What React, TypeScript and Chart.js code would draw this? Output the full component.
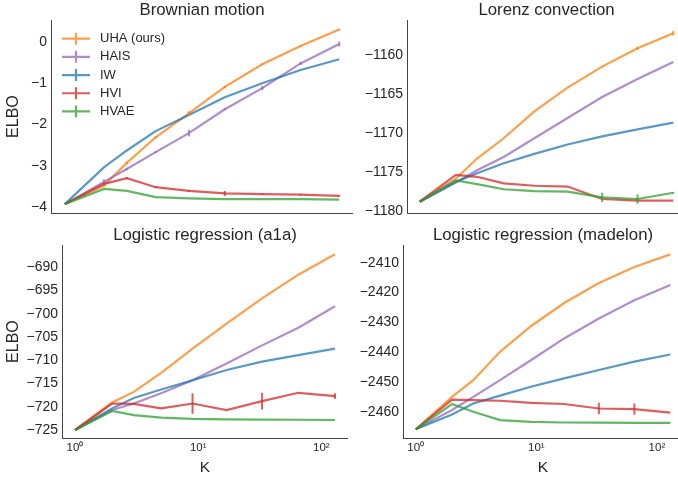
import React, { useEffect, useRef } from 'react';
import { Chart, registerables } from 'chart.js';

Chart.register(...registerables);

// ---------------- data ----------------
const K = [1, 2, 3, 5, 9, 17, 33, 65, 129];
const SERIES = ['UHA (ours)', 'HAIS', 'IW', 'HVI', 'HVAE'];
const COLORS = [
  'rgba(255,127,14,0.75)',
  'rgba(148,103,189,0.75)',
  'rgba(31,119,180,0.75)',
  'rgba(214,39,40,0.75)',
  'rgba(44,160,44,0.75)',
];
const X_TICKS = [1, 10, 100];
const X_TICK_LABELS = ['10\u2070', '10\u00b9', '10\u00b2'];

// Brownian motion
const BROWN_UHA = [-3.93, -3.48, -2.93, -2.31, -1.73, -1.09, -0.54, -0.1, 0.3];
const BROWN_HAIS = [-3.93, -3.39, -3.08, -2.67, -2.21, -1.63, -1.12, -0.52, -0.05];
const BROWN_IW = [-3.93, -3.04, -2.63, -2.16, -1.77, -1.34, -1.0, -0.68, -0.42];
const BROWN_HVI = [-3.93, -3.44, -3.3, -3.52, -3.61, -3.67, -3.69, -3.7, -3.73];
const BROWN_HVAE = [-3.93, -3.56, -3.61, -3.76, -3.79, -3.81, -3.81, -3.81, -3.82];
const BROWN_UHA_ERR = [0, 0.03, 0.03, 0.03, 0.05, 0.03, 0.02, 0.02, 0.02];
const BROWN_HAIS_ERR = [0, 0.06, 0.03, 0.02, 0.08, 0.02, 0.05, 0.04, 0.06];
const BROWN_HVI_ERR = [0, 0.02, 0.02, 0.02, 0.02, 0.06, 0.02, 0.02, 0.02];
const BROWN_TICKS = [-4, -3, -2, -1, 0];

// Lorenz convection
const LORENZ_UHA = [-1178.85, -1175.9, -1173.3, -1170.7, -1167.25, -1164.2, -1161.5, -1159.15, -1157.2];
const LORENZ_HAIS = [-1178.85, -1176.4, -1174.8, -1173.1, -1170.7, -1168.1, -1165.4, -1163.1, -1160.9];
const LORENZ_IW = [-1178.85, -1176.3, -1175.2, -1173.9, -1172.7, -1171.5, -1170.45, -1169.55, -1168.7];
const LORENZ_HVI = [-1178.85, -1175.4, -1175.65, -1176.5, -1176.8, -1176.9, -1178.5, -1178.7, -1178.7];
const LORENZ_HVAE = [-1178.85, -1176.1, -1176.6, -1177.25, -1177.5, -1177.55, -1178.3, -1178.5, -1177.7];
const LORENZ_UHA_ERR = [0, 0, 0, 0, 0, 0, 0.1, 0.2, 0.3];
const LORENZ_HVAE_ERR = [0, 0, 0, 0, 0, 0, 0.6, 0.6, 0.1];
const LORENZ_TICKS = [-1180, -1175, -1170, -1165, -1160];

// Logistic regression (a1a)
const A1A_UHA = [-725, -719.1, -716.8, -712.7, -707.5, -702.1, -696.7, -691.6, -687.2];
const A1A_HAIS = [-725, -720.7, -719.3, -717.1, -714.3, -710.7, -706.8, -703.0, -698.4];
const A1A_IW = [-725, -720.35, -718.1, -716.3, -714.3, -712.1, -710.3, -708.9, -707.5];
const A1A_HVI = [-725, -719.3, -719.4, -720.35, -719.3, -720.7, -718.8, -717.0, -717.7];
const A1A_HVAE = [-725, -720.9, -721.8, -722.35, -722.6, -722.7, -722.75, -722.8, -722.85];
const A1A_HVI_ERR = [0, 0, 0, 0, 2.2, 0, 1.8, 0, 0.6];
const A1A_TICKS = [-725, -720, -715, -710, -705, -700, -695, -690];

// Logistic regression (madelon)
const MAD_UHA = [-2465.9, -2455.0, -2449.4, -2439.9, -2431.3, -2423.5, -2416.8, -2411.4, -2407.2];
const MAD_HAIS = [-2465.9, -2459.4, -2455.0, -2449.4, -2442.7, -2435.4, -2428.7, -2422.6, -2417.5];
const MAD_IW = [-2465.9, -2460.9, -2457.2, -2454.6, -2451.6, -2448.8, -2446.0, -2443.2, -2440.8];
const MAD_HVI = [-2465.9, -2455.9, -2456.1, -2456.3, -2457.0, -2457.4, -2458.9, -2459.1, -2460.3];
const MAD_HVAE = [-2465.9, -2457.4, -2460.0, -2462.8, -2463.4, -2463.6, -2463.65, -2463.7, -2463.7];
const MAD_HVI_ERR = [0, 0, 0, 0, 0, 0, 1.9, 1.9, 0];
const MAD_TICKS = [-2460, -2450, -2440, -2430, -2420, -2410];

// ---------------- layout ----------------
const X_MIN = 0.784;
const X_MAX = 164.5;
const TEXT = '#262626';
const SPINE = '#444444';

Chart.defaults.font.family = '"Liberation Sans", Arial, Helvetica, sans-serif';
Chart.defaults.color = TEXT;

type PanelCfg = {
  title: string;
  series: number[][];
  errs: (number[] | null)[];
  yTicks: number[];
  yMin: number;
  yMax: number;
  left: number;
  top: number;
  width: number;
  height: number;
  yAxisWidth: number;
  xAxisHeight: number;
  showX: boolean;
  showYTitle: boolean;
  legend: boolean;
};

const PANELS: PanelCfg[] = [
  {
    title: 'Brownian motion',
    series: [BROWN_UHA, BROWN_HAIS, BROWN_IW, BROWN_HVI, BROWN_HVAE],
    errs: [BROWN_UHA_ERR, BROWN_HAIS_ERR, null, BROWN_HVI_ERR, null],
    yTicks: BROWN_TICKS, yMin: -4.145, yMax: 0.528,
    left: 0, top: 0, width: 353, height: 227, yAxisWidth: 51, xAxisHeight: 14,
    showX: false, showYTitle: true, legend: true,
  },
  {
    title: 'Lorenz convection',
    series: [LORENZ_UHA, LORENZ_HAIS, LORENZ_IW, LORENZ_HVI, LORENZ_HVAE],
    errs: [LORENZ_UHA_ERR, null, null, null, LORENZ_HVAE_ERR],
    yTicks: LORENZ_TICKS, yMin: -1180.3, yMax: -1155.53,
    left: 340, top: 0, width: 346, height: 227, yAxisWidth: 67, xAxisHeight: 14,
    showX: false, showYTitle: false, legend: false,
  },
  {
    title: 'Logistic regression (a1a)',
    series: [A1A_UHA, A1A_HAIS, A1A_IW, A1A_HVI, A1A_HVAE],
    errs: [null, null, null, A1A_HVI_ERR, null],
    yTicks: A1A_TICKS, yMin: -726.72, yMax: -685.25,
    left: 0, top: 225, width: 348, height: 252, yAxisWidth: 62, xAxisHeight: 39,
    showX: true, showYTitle: true, legend: false,
  },
  {
    title: 'Logistic regression (madelon)',
    series: [MAD_UHA, MAD_HAIS, MAD_IW, MAD_HVI, MAD_HVAE],
    errs: [null, null, null, MAD_HVI_ERR, null],
    yTicks: MAD_TICKS, yMin: -2468.8, yMax: -2404.1,
    left: 340, top: 225, width: 343, height: 252, yAxisWidth: 63, xAxisHeight: 39,
    showX: true, showYTitle: false, legend: false,
  },
];

const fmtY = (v: number) => (v < 0 ? '\u2212' + Math.abs(v) : String(v));

const errorBarPlugin = {
  id: 'errbars',
  afterDatasetsDraw(chart: any) {
    const ctx = chart.ctx;
    const xs = chart.scales.x;
    const ys = chart.scales.y;
    chart.data.datasets.forEach((ds: any) => {
      const err: number[] | null = ds.errs;
      if (!err) return;
      ctx.save();
      ctx.strokeStyle = ds.borderColor;
      ctx.lineWidth = 2;
      ds.data.forEach((p: any, i: number) => {
        const e = err[i];
        if (!e) return;
        const x = xs.getPixelForValue(p.x);
        ctx.beginPath();
        ctx.moveTo(x, ys.getPixelForValue(p.y - e));
        ctx.lineTo(x, ys.getPixelForValue(p.y + e));
        ctx.stroke();
      });
      ctx.restore();
    });
  },
};

const crossLegendPlugin = {
  id: 'crossLegend',
  afterDraw(chart: any) {
    const ctx = chart.ctx;
    const area = chart.chartArea;
    const x0 = area.left + 11;
    const x1 = area.left + 39;
    const xm = (x0 + x1) / 2;
    const tx = area.left + 49;
    ctx.save();
    chart.data.datasets.forEach((ds: any, i: number) => {
      const y = area.top + 18.5 + i * 18.2;
      ctx.strokeStyle = ds.borderColor;
      ctx.lineWidth = 2.2;
      ctx.beginPath();
      ctx.moveTo(x0, y);
      ctx.lineTo(x1, y);
      ctx.moveTo(xm, y - 6);
      ctx.lineTo(xm, y + 6);
      ctx.stroke();
      ctx.fillStyle = TEXT;
      ctx.font = '13px "Liberation Sans", Arial, sans-serif';
      ctx.textBaseline = 'middle';
      ctx.textAlign = 'left';
      ctx.fillText(ds.label, tx, y);
    });
    ctx.restore();
  },
};

function Panel({ cfg }: { cfg: PanelCfg }) {
  const ref = useRef<HTMLCanvasElement>(null);
  useEffect(() => {
    const datasets = cfg.series.map((vals, i) => ({
      label: SERIES[i],
      data: K.map((k, j) => ({ x: k, y: vals[j] })),
      errs: cfg.errs[i],
      borderColor: COLORS[i],
      backgroundColor: COLORS[i],
      borderWidth: 2.2,
      pointRadius: 0,
      tension: 0,
      fill: false,
      order: 5 - i,
    }));
    const plugins: any[] = [errorBarPlugin];
    if (cfg.legend) plugins.push(crossLegendPlugin);
    const chart = new Chart(ref.current as HTMLCanvasElement, {
      type: 'line',
      data: { datasets } as any,
      plugins,
      options: {
        animation: false,
        responsive: true,
        maintainAspectRatio: false,
        layout: { padding: 0 },
        plugins: {
          legend: { display: false },
          tooltip: { enabled: false },
          title: {
            display: true,
            text: cfg.title,
            fullSize: false,
            color: TEXT,
            font: { size: 16.8, weight: 'normal' },
            padding: { top: 0, bottom: 0 },
          },
        },
        scales: {
          x: {
            type: 'logarithmic',
            min: X_MIN,
            max: X_MAX,
            grid: { display: false, drawTicks: false, tickLength: 0 },
            border: { display: true, color: SPINE, width: 1 },
            ticks: {
              display: cfg.showX,
              color: TEXT,
              font: { size: 11.5 },
              padding: 3,
              maxRotation: 0,
              minRotation: 0,
              autoSkip: false,
              callback: (v: any) => {
                const i = X_TICKS.indexOf(Number(v));
                return i >= 0 ? X_TICK_LABELS[i] : '';
              },
            },
            title: {
              display: cfg.showX,
              text: 'K',
              color: TEXT,
              font: { size: 15.5 },
              padding: { top: 0, bottom: 0 },
            },
            afterBuildTicks: (s: any) => {
              s.ticks = X_TICKS.map((v) => ({ value: v }));
            },
            afterFit: (s: any) => {
              s.height = cfg.xAxisHeight;
            },
          },
          y: {
            type: 'linear',
            min: cfg.yMin,
            max: cfg.yMax,
            grid: { display: false, drawTicks: false, tickLength: 0 },
            border: { display: true, color: SPINE, width: 1 },
            ticks: {
              color: TEXT,
              font: { size: 14 },
              padding: 4,
              autoSkip: false,
              callback: (v: any) => fmtY(Number(v)),
            },
            title: {
              display: cfg.showYTitle,
              text: 'ELBO',
              color: TEXT,
              font: { size: 16 },
              padding: { top: 4, bottom: 0 },
            },
            afterBuildTicks: (s: any) => {
              s.ticks = cfg.yTicks.map((v) => ({ value: v }));
            },
            afterFit: (s: any) => {
              s.width = cfg.yAxisWidth;
            },
          },
        },
      } as any,
    });
    return () => chart.destroy();
  }, [cfg]);
  return (
    <div
      style={{
        position: 'absolute',
        left: cfg.left,
        top: cfg.top,
        width: cfg.width,
        height: cfg.height,
      }}
    >
      <canvas ref={ref} />
    </div>
  );
}

export default function App() {
  return (
    <div
      style={{
        position: 'absolute',
        left: 0,
        top: 0,
        width: 678,
        height: 477,
        overflow: 'hidden',
        background: '#ffffff',
      }}
    >
      {PANELS.map((p) => (
        <Panel key={p.title} cfg={p} />
      ))}
    </div>
  );
}
